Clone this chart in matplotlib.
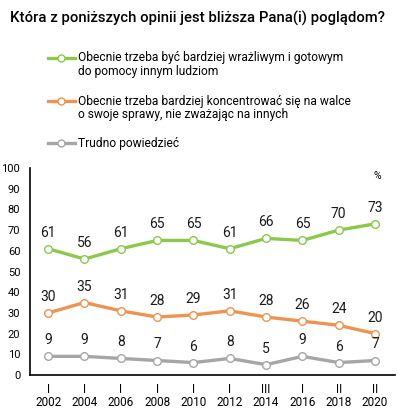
import matplotlib
matplotlib.use("Agg")
import matplotlib.pyplot as plt
from matplotlib.lines import Line2D

plt.rcParams['font.family'] = ['Roboto', 'DejaVu Sans']

years = ["I\n2002", "I\n2004", "I\n2006", "I\n2008", "I\n2010", "I\n2012",
         "III\n2014", "I\n2016", "II\n2018", "II\n2020"]
s_help = [61, 56, 61, 65, 65, 61, 66, 65, 70, 73]
s_self = [30, 35, 31, 28, 29, 31, 28, 26, 24, 20]
s_hard = [9, 9, 8, 7, 6, 8, 5, 9, 6, 7]
names = [["Obecnie trzeba być bardziej wrażliwym i gotowym", "do pomocy innym ludziom"],
         ["Obecnie trzeba bardziej koncentrować się na walce", "o swoje sprawy, nie zważając na innych"],
         ["Trudno powiedzieć"]]
colors = ["#8CC84B", "#EE9452", "#A6A6A6"]
title = "Która z poniższych opinii jest bliższa Pana(i) poglądom?"

W, H = 397, 416
fig = plt.figure(figsize=(W / 100, H / 100), dpi=100)
ax = fig.add_axes([30 / W, 41 / H, (395 - 30) / W, (375 - 168) / H])

x = list(range(len(years)))
for vals, col in zip([s_help, s_self, s_hard], colors):
    ax.plot(x, vals, color=col, lw=2.4, marker='o', ms=5.5,
            mfc='white', mec=col, mew=1.0, zorder=3, clip_on=False)
    for xi, v in zip(x, vals):
        ax.annotate(str(v), (xi, v), xytext=(0, 6.5), textcoords='offset points',
                    ha='center', va='bottom', fontsize=10, color='#1a1a1a')

ax.set_xlim(-0.5, 9.55)
ax.set_ylim(0, 100)
ax.set_yticks(range(0, 101, 10))
ax.set_xticks(x)
ax.set_xticklabels(years, fontsize=8.5, linespacing=0.95)
ax.tick_params(axis='y', labelsize=8, length=0, pad=7)
ax.tick_params(axis='x', length=0, pad=6)
for s in ['top', 'right']:
    ax.spines[s].set_visible(False)
for s in ['left', 'bottom']:
    ax.spines[s].set_linewidth(1.2)
    ax.spines[s].set_color('black')

fig.text(377 / W, 1 - 176 / H, "%", fontsize=7.5, ha='center', va='center')

fig.text(10 / W, 1 - 18 / H, title, fontsize=10.7, fontweight='medium',
         ha='left', va='center')

legend_y = [58, 101, 143]
for yy, lines, col in zip(legend_y, names, colors):
    fy = 1 - yy / H
    fig.add_artist(Line2D([48 / W, 75 / W], [fy, fy], transform=fig.transFigure,
                          color=col, lw=2.4))
    fig.add_artist(Line2D([61 / W], [fy], transform=fig.transFigure, color=col,
                          marker='o', ms=5, mfc='white', mec=col, mew=1.0))
    for k, line in enumerate(lines):
        fig.text(78 / W, 1 - (yy + 13.5 * k) / H, line, fontsize=8.65,
                 ha='left', va='center')

fig.savefig("out.png", dpi=100)
